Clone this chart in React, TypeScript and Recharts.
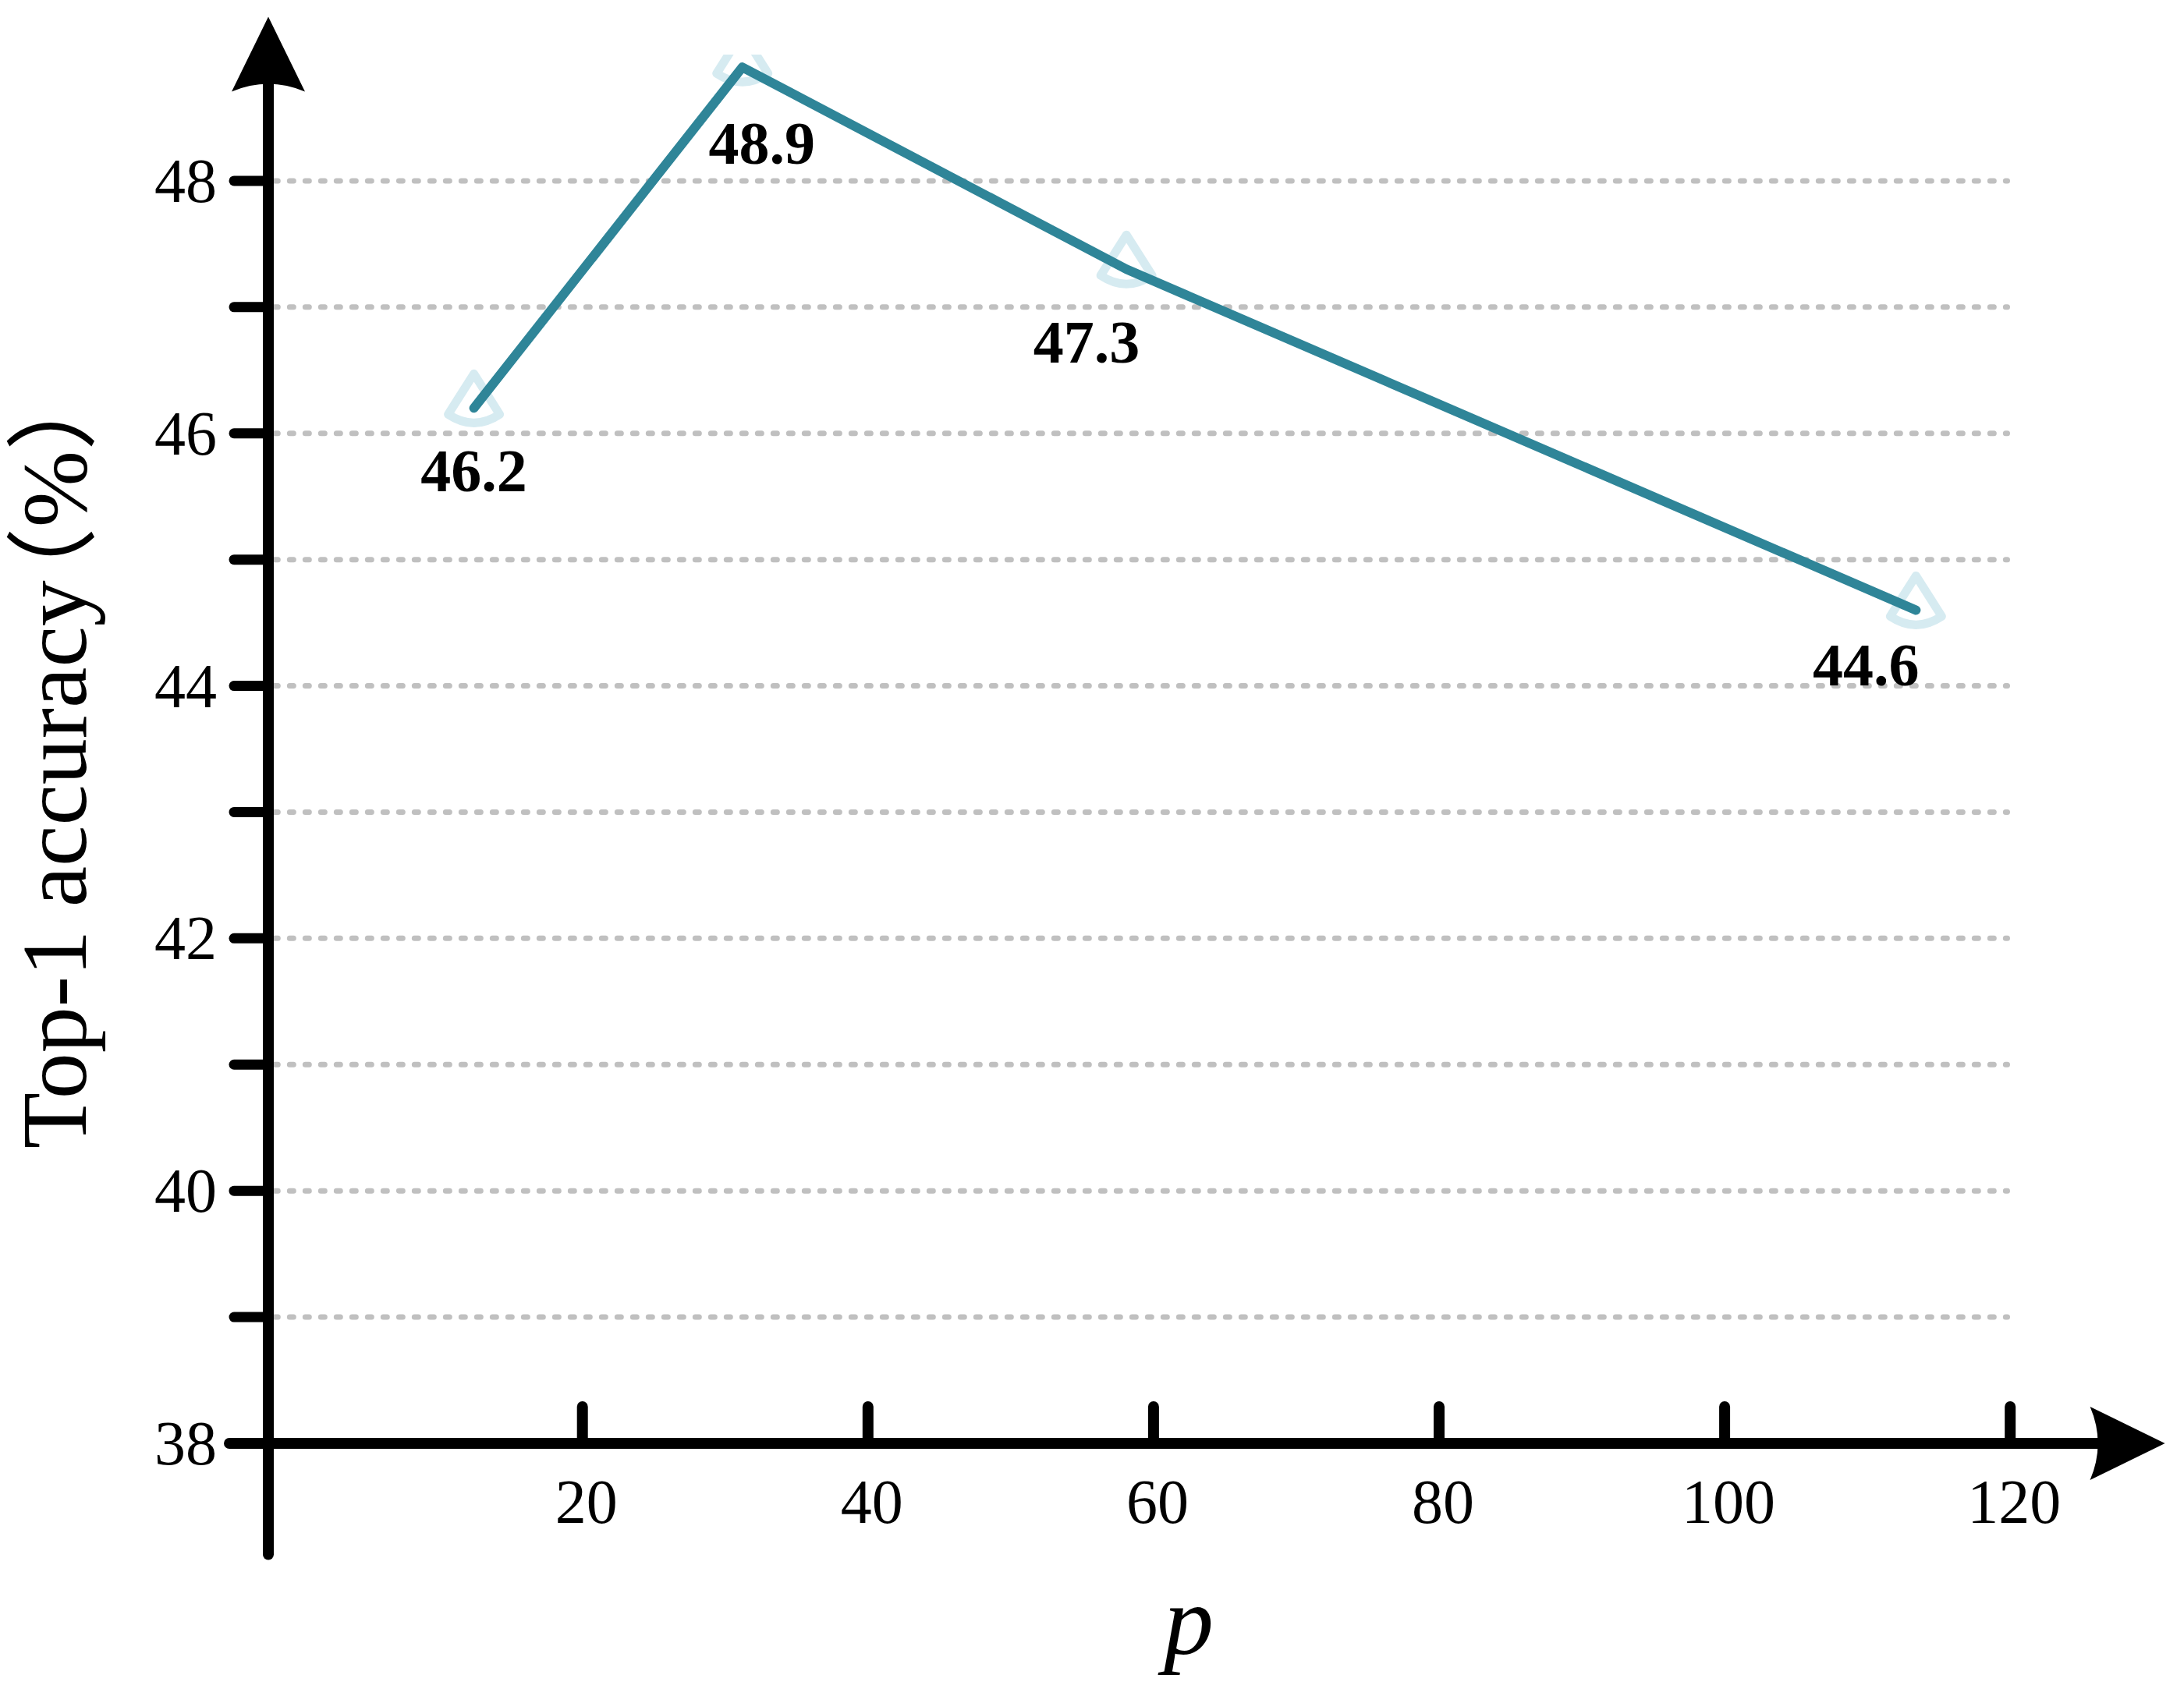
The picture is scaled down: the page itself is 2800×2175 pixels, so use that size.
import React from "react";
import { LineChart, Line, XAxis, YAxis, ReferenceLine, LabelList } from "recharts";

// values
const P_VALUES = [12.4, 31.2, 58.1, 113.4];
const ACCURACY = [46.2, 48.9, 47.3, 44.6];
const X_TICKS = [20, 40, 60, 80, 100, 120];
const Y_TICKS = [38, 39, 40, 41, 42, 43, 44, 45, 46, 47, 48];
const Y_LABELED = [38, 40, 42, 44, 46, 48];
const GRID_VALUES = [39, 40, 41, 42, 43, 44, 45, 46, 47, 48];

const data = P_VALUES.map((p, i) => ({ p, acc: ACCURACY[i] }));

const SERIF = "'Liberation Serif', 'Times New Roman', serif";
const LINE_COLOR = "#2f8598";
const MARKER_COLOR = "#d6ebf1";
const GRID_COLOR = "#c0c0c0";

// where each value label sits relative to its point (dx, dy of text centre)
const LABEL_OFFSETS = [
  [0, 81],
  [25, 98],
  [-51, 94],
  [-64, 71],
];

const XTick = (props: any) => {
  const { x, y, payload } = props;
  return (
    <g>
      <line x1={x} x2={x} y1={y} y2={y - 47} stroke="#000" strokeWidth={14} strokeLinecap="round" />
      <text x={x + 5} y={y + 102} textAnchor="middle" fontFamily={SERIF} fontSize={80} fill="#000">
        {payload.value}
      </text>
    </g>
  );
};

const YTick = (props: any) => {
  const { x, y, payload } = props;
  return (
    <g>
      <line x1={x - 44} x2={x} y1={y} y2={y} stroke="#000" strokeWidth={13} strokeLinecap="round" />
      {Y_LABELED.includes(payload.value) && (
        <text x={x - 66} y={y + 27} textAnchor="end" fontFamily={SERIF} fontSize={80} fill="#000">
          {payload.value}
        </text>
      )}
    </g>
  );
};

const VerticalArrowAxis = (props: any) => {
  const { x1, y1, x2, y2 } = props;
  const head = 96;
  const half = 47;
  return (
    <g>
      <line x1={x1} y1={y1} x2={x2} y2={y2 + head - 12} stroke="#000" strokeWidth={14} strokeLinecap="round" />
      <path
        d={`M${x2},${y2} L${x2 + half},${y2 + head} Q${x2},${y2 + head - 20} ${x2 - half},${y2 + head} Z`}
        fill="#000"
      />
    </g>
  );
};

const HorizontalArrowAxis = (props: any) => {
  const { x1, y1, x2, y2 } = props;
  const head = 96;
  const half = 47;
  return (
    <g>
      <line x1={x1} y1={y1} x2={x2 - head + 12} y2={y2} stroke="#000" strokeWidth={14} strokeLinecap="round" />
      <path
        d={`M${x2},${y2} L${x2 - head},${y2 - half} Q${x2 - head + 20},${y2} ${x2 - head},${y2 + half} Z`}
        fill="#000"
      />
    </g>
  );
};

// hollow cone-like triangle, drawn under the line
const Marker = (props: any) => {
  const { cx, cy, index } = props;
  if (cx == null || cy == null) return <g key={index} />;
  return (
    <path
      key={index}
      d={`M${cx},${cy - 44} L${cx + 33},${cy + 8} Q${cx},${cy + 30} ${cx - 33},${cy + 8} Z`}
      fill="none"
      stroke={MARKER_COLOR}
      strokeWidth={11}
      strokeLinejoin="round"
    />
  );
};

const ValueLabel = (props: any) => {
  const { x, y, value, index } = props;
  const [dx, dy] = LABEL_OFFSETS[index] ?? [0, 80];
  return (
    <text
      x={x + dx}
      y={y + dy + 26}
      textAnchor="middle"
      fontFamily={SERIF}
      fontWeight="bold"
      fontSize={78}
      fill="#000"
    >
      {value}
    </text>
  );
};

const XTitle = () => (
  <text x={1524} y={2121} textAnchor="middle" fontFamily={SERIF} fontStyle="italic" fontSize={128} fill="#000">
    p
  </text>
);

const YTitle = () => (
  <text
    transform="translate(110,1473) rotate(-90)"
    textAnchor="start"
    fontFamily="'Liberation Serif', 'Times New Roman', 'Noto Sans CJK SC', serif"
    fontSize={118}
    fill="#000"
  >
    Top-1 accuracy
    <tspan dx={-50}>（%）</tspan>
  </text>
);

export default function App() {
  return (
    <div style={{ position: "absolute", left: 0, top: 0, background: "#fff" }}>
      <LineChart
        width={2800}
        height={2175}
        data={data}
        margin={{ top: 70, right: 113, bottom: 224, left: 244 }}
      >
        <XAxis
          type="number"
          dataKey="p"
          domain={[-2, 126]}
          ticks={X_TICKS}
          interval={0}
          allowDataOverflow
          axisLine={false}
          tickLine={false}
          tickSize={0}
          tickMargin={0}
          tick={<XTick />}
          height={100}
          label={{ content: XTitle }}
        />
        <YAxis
          type="number"
          domain={[38, 49]}
          ticks={Y_TICKS}
          interval={0}
          allowDataOverflow
          axisLine={false}
          tickLine={false}
          tickSize={0}
          tickMargin={0}
          tick={<YTick />}
          width={100}
          label={{ content: YTitle }}
        />
        {GRID_VALUES.map((v) => (
          <ReferenceLine
            key={`grid-${v}`}
            segment={[
              { x: -1.6, y: v },
              { x: 119.8, y: v },
            ]}
            stroke={GRID_COLOR}
            strokeWidth={7}
            strokeDasharray="5 15"
            strokeLinecap="round"
            ifOverflow="visible"
          />
        ))}
        <ReferenceLine
          segment={[
            { x: -2, y: 37.12 },
            { x: -2, y: 49.3 },
          ]}
          ifOverflow="visible"
          shape={(p: any) => <VerticalArrowAxis {...p} />}
        />
        <ReferenceLine
          segment={[
            { x: -4.73, y: 38 },
            { x: 130.84, y: 38 },
          ]}
          ifOverflow="visible"
          shape={(p: any) => <HorizontalArrowAxis {...p} />}
        />
        <Line
          type="linear"
          dataKey="acc"
          stroke="none"
          dot={(p: any) => <Marker {...p} />}
          activeDot={false}
          legendType="none"
          isAnimationActive={false}
        />
        <Line
          type="linear"
          dataKey="acc"
          stroke={LINE_COLOR}
          strokeWidth={12}
          strokeLinejoin="round"
          strokeLinecap="round"
          dot={false}
          activeDot={false}
          isAnimationActive={false}
          zIndex={700}
        >
          <LabelList dataKey="acc" content={ValueLabel} />
        </Line>
      </LineChart>
    </div>
  );
}
